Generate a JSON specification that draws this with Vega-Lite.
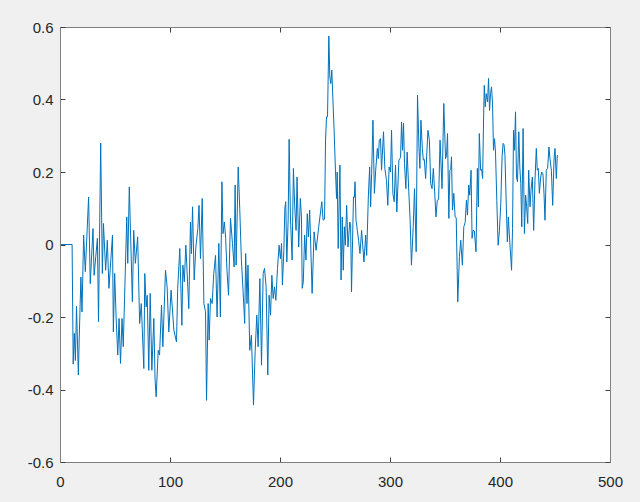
{
  "$schema": "https://vega.github.io/schema/vega-lite/v6.json",
  "width": 550,
  "height": 435,
  "autosize": {"type": "none"},
  "padding": {"left": 60, "top": 27, "right": 30, "bottom": 40},
  "background": "#f0f0f0",
  "config": {
    "view": {"fill": "white", "stroke": null},
    "axis": {
      "grid": false,
      "domainColor": "#808080",
      "domainWidth": 1,
      "tickColor": "#404040",
      "tickSize": -5,
      "tickWidth": 1,
      "labelFont": "Liberation Sans",
      "labelFontSize": 15,
      "labelColor": "#262626",
      "title": null
    }
  },
  "data": {"values": [
    {"x":1,"y":0},{"x":11,"y":0},{"x":12,"y":-0.33},{"x":13,"y":-0.245},{"x":14,"y":-0.32},{"x":15,"y":-0.17},{"x":16.7,"y":-0.36},{"x":17.5,"y":-0.255},{"x":19,"y":-0.09},{"x":20,"y":-0.186},{"x":21.5,"y":0.026},{"x":23,"y":-0.075},{"x":26,"y":0.131},{"x":27.5,"y":-0.108},{"x":30,"y":0.044},{"x":31,"y":-0.085},{"x":32.5,"y":-0.034},{"x":34,"y":0.017},{"x":35,"y":-0.213},{"x":37,"y":0.28},{"x":38.5,"y":-0.08},{"x":39.5,"y":0.058},{"x":41.5,"y":-0.071},{"x":43,"y":0.012},{"x":44.5,"y":-0.121},{"x":47.7,"y":0.026},{"x":48.5,"y":-0.241},{"x":49.7,"y":-0.08},{"x":51,"y":-0.2},{"x":52.5,"y":-0.305},{"x":53.7,"y":-0.204},{"x":55,"y":-0.328},{"x":56.4,"y":-0.204},{"x":57.5,"y":-0.282},{"x":60.7,"y":0.076},{"x":61.6,"y":-0.052},{"x":63,"y":0.159},{"x":65.8,"y":-0.158},{"x":67,"y":0.039},{"x":68.5,"y":-0.052},{"x":70.6,"y":0.021},{"x":72.4,"y":-0.218},{"x":73.9,"y":-0.163},{"x":76.2,"y":-0.342},{"x":77.1,"y":-0.08},
    {"x":78.3,"y":-0.172},{"x":79.3,"y":-0.14},{"x":80.7,"y":-0.347},{"x":82,"y":-0.135},{"x":83.5,"y":-0.347},{"x":85.3,"y":-0.204},{"x":86.4,"y":-0.37},{"x":87.4,"y":-0.42},{"x":89.3,"y":-0.292},{"x":90.5,"y":-0.305},{"x":92.3,"y":-0.167},{"x":93.5,"y":-0.282},{"x":95.9,"y":-0.071},{"x":97.4,"y":-0.117},{"x":98.9,"y":-0.241},{"x":101,"y":-0.126},{"x":103.5,"y":-0.236},{"x":105.9,"y":-0.269},{"x":107,"y":-0.121},{"x":108.9,"y":-0.011},{"x":110.8,"y":-0.223},{"x":111.7,"y":-0.057},{"x":113,"y":-0.103},{"x":114.4,"y":-0.002},{"x":117.1,"y":-0.177},{"x":118.6,"y":0.062},{"x":119.5,"y":-0.025},{"x":120.5,"y":0.104},{"x":122,"y":-0.098},{"x":123.5,"y":-0.007},{"x":125.3,"y":0.044},{"x":126.4,"y":0.108},{"x":127.7,"y":-0.039},{"x":129.3,"y":0.127},{"x":130.8,"y":-0.163},{"x":132.3,"y":-0.185},{"x":133.2,"y":-0.43},{"x":134.7,"y":-0.163},{"x":135.6,"y":-0.264},{"x":136.8,"y":-0.149},{"x":138.3,"y":-0.163},{"x":139.8,"y":-0.08},{"x":141.4,"y":-0.03},{"x":142.8,"y":-0.2},{"x":144.4,"y":0.003},{"x":145.8,"y":-0.2},{"x":147.2,"y":0.173},
    {"x":148.2,"y":0.03},{"x":149.4,"y":0.062},{"x":150.6,"y":0.017},{"x":151.8,"y":-0.071},{"x":153.2,"y":-0.14},{"x":155,"y":0.072},{"x":156.8,"y":0.003},{"x":158.3,"y":-0.062},{"x":159.2,"y":0.164},{"x":160.1,"y":-0.057},{"x":162,"y":0.214},{"x":163.4,"y":0.099},{"x":164.9,"y":-0.043},{"x":166.4,"y":-0.126},{"x":167.9,"y":-0.218},{"x":168.8,"y":-0.025},{"x":170,"y":-0.163},{"x":170.9,"y":-0.057},{"x":172.5,"y":-0.292},{"x":174,"y":-0.25},{"x":175.9,"y":-0.443},{"x":177.4,"y":-0.296},{"x":178.9,"y":-0.195},{"x":180.1,"y":-0.282},{"x":181.7,"y":-0.094},{"x":183.2,"y":-0.333},{"x":184.7,"y":-0.08},{"x":185.9,"y":-0.066},{"x":187.4,"y":-0.117},{"x":188.9,"y":-0.36},{"x":190.1,"y":-0.14},{"x":191.4,"y":-0.195},{"x":192.6,"y":-0.085},{"x":193.8,"y":-0.149},{"x":195,"y":-0.117},{"x":196.2,"y":-0.154},{"x":197.7,"y":-0.066},{"x":199.2,"y":-0.002},{"x":200.4,"y":-0.039},{"x":201.4,"y":0.003},{"x":202.2,"y":-0.112},{"x":203.5,"y":-0.016},{"x":204.4,"y":0.099},{"x":205.2,"y":0.118},{"x":206.2,"y":-0.048},{"x":207.4,"y":0.067},{"x":208.3,"y":0.29},{"x":209.5,"y":0.076},{"x":211,"y":-0.043},{"x":212.2,"y":0.21},{"x":213.4,"y":0.104},{"x":214.6,"y":0.039},{"x":215.5,"y":0.186},{"x":217,"y":-0.007},{"x":218.5,"y":0.127},
    {"x":219.5,"y":0.076},{"x":220.2,"y":-0.121},{"x":221.2,"y":-0.103},{"x":222.4,"y":0.026},{"x":223.6,"y":-0.043},{"x":224.8,"y":0.085},{"x":225.8,"y":0.021},{"x":227,"y":0.095},{"x":229.2,"y":-0.135},{"x":231,"y":0.035},{"x":232.8,"y":-0.016},{"x":235.2,"y":0.049},{"x":238,"y":0.118},{"x":239.2,"y":0.067},{"x":240.5,"y":0.07},{"x":241.4,"y":0.288},{"x":242.3,"y":0.352},{"x":243.2,"y":0.352},{"x":244.4,"y":0.575},{"x":245.3,"y":0.462},{"x":246.2,"y":0.444},{"x":247.1,"y":0.481},{"x":248,"y":0.407},{"x":249.2,"y":0.315},{"x":250.4,"y":0.205},{"x":251.4,"y":0.127},{"x":252,"y":0.2},{"x":252.9,"y":-0.011},{"x":254.5,"y":0.219},{"x":255.5,"y":-0.098},{"x":256.6,"y":0.076},{"x":257.5,"y":-0.071},{"x":258.5,"y":0.049},{"x":259.4,"y":-0.002},{"x":260.6,"y":0.108},{"x":261.8,"y":-0.007},{"x":263.4,"y":0.062},{"x":264.2,"y":0.055},{"x":265,"y":-0.131},{"x":266.8,"y":0.131},{"x":267.6,"y":0.13},{"x":268.2,"y":0.173},{"x":269.1,"y":0.067},{"x":270.3,"y":0.039},{"x":271.5,"y":0.01},{"x":272.7,"y":-0.025},{"x":274.2,"y":0.039},{"x":276.3,"y":-0.048},{"x":277.9,"y":0.026},{"x":278.8,"y":-0.03},{"x":280.3,"y":0.131},{"x":281.5,"y":0.214},{"x":282.4,"y":0.104},{"x":283.3,"y":0.196},{"x":284.5,"y":0.343},{"x":285.8,"y":0.141},{"x":287,"y":0.205},{"x":288.5,"y":0.265},{"x":289.4,"y":0.237},{"x":290.3,"y":0.288},
    {"x":291.4,"y":0.292},{"x":292.3,"y":0.205},{"x":294.1,"y":0.311},{"x":295.3,"y":0.21},{"x":296.8,"y":0.177},{"x":298,"y":0.108},{"x":299.2,"y":0.214},{"x":300.5,"y":0.2},{"x":301.4,"y":0.315},{"x":302.6,"y":0.141},{"x":303.8,"y":0.118},{"x":305,"y":0.219},{"x":306.2,"y":0.09},{"x":308.1,"y":0.233},{"x":309.6,"y":0.24},{"x":310.5,"y":0.338},{"x":311.4,"y":0.26},{"x":312.3,"y":0.334},{"x":313.2,"y":0.223},{"x":314.4,"y":0.154},{"x":315.6,"y":0.255},{"x":317.1,"y":0.145},{"x":318.3,"y":0.067},{"x":319.5,"y":-0.057},{"x":321.1,"y":0.049},{"x":322.3,"y":0.154},{"x":323.8,"y":-0.02},{"x":325,"y":0.412},{"x":326.3,"y":0.269},{"x":327.2,"y":0.21},{"x":328.1,"y":0.343},{"x":329.4,"y":0.265},{"x":330.3,"y":0.233},{"x":331.2,"y":0.235},{"x":332.4,"y":0.182},{"x":333.6,"y":0.26},{"x":334.5,"y":0.315},{"x":335.8,"y":0.288},{"x":337,"y":0.168},{"x":338.2,"y":0.154},{"x":339.4,"y":0.21},{"x":340.6,"y":0.145},{"x":341.8,"y":0.076},{"x":343,"y":0.122},{"x":344.2,"y":0.124},{"x":345.5,"y":0.288},{"x":347.3,"y":0.154},{"x":348.9,"y":0.389},{"x":350.5,"y":0.237},{"x":351.4,"y":0.245},{"x":352.3,"y":0.306},{"x":353.5,"y":0.072},{"x":354.4,"y":0.205},{"x":355.2,"y":0.207},{"x":355.9,"y":0.242},{"x":356.8,"y":0.095},{"x":358,"y":0.141},{"x":359.2,"y":0.076},{"x":360.2,"y":0.074},{"x":361.6,"y":-0.158},{"x":363.1,"y":-0.034},{"x":364.3,"y":0.012},{"x":365.8,"y":-0.057},{"x":367.1,"y":0.049},{"x":368.3,"y":0.06},{"x":369.5,"y":0.122},{"x":370.4,"y":0.081},{"x":371.6,"y":0.164},{"x":372.5,"y":0.136},{"x":373.7,"y":0.205},{"x":374.6,"y":0.017},{"x":375.5,"y":0.039},{"x":376.7,"y":0.037},{"x":378.2,"y":-0.02},{"x":379.4,"y":0.21},{"x":380.3,"y":0.104},{"x":381.2,"y":0.306},{"x":382.4,"y":0.205},{"x":383.3,"y":0.207},{"x":384.2,"y":0.182},{"x":385.1,"y":0.352},{"x":385.7,"y":0.439},{"x":386.6,"y":0.38},{"x":387.5,"y":0.416},{"x":388.7,"y":0.393},{"x":389.6,"y":0.458},{"x":390.5,"y":0.37},{"x":391.4,"y":0.416},{"x":392.3,"y":0.435},{"x":393.2,"y":0.39},{"x":394.1,"y":0.26},{"x":395,"y":0.292},{"x":395.9,"y":0.255},{"x":397.1,"y":0.122},{"x":398.3,"y":-0.002},{"x":399.5,"y":0.039},{"x":400.7,"y":0.113},{"x":401.9,"y":0.242},{"x":402.8,"y":0.279},{"x":403.7,"y":0.275},{"x":404.5,"y":0.246},{"x":405.5,"y":0.131},{"x":406.7,"y":0.007},{"x":407.6,"y":0.076},{"x":408.5,"y":0.026},{"x":410.5,"y":-0.071},{"x":411.4,"y":0.044},{"x":412.3,"y":0.315},{"x":413.2,"y":0.26},{"x":414.1,"y":0.366},{"x":415,"y":0.186},{"x":415.9,"y":0.173},{"x":417.1,"y":0.311},{"x":418,"y":0.214},{"x":418.9,"y":0.168},{"x":419.8,"y":0.049},{"x":421,"y":0.32},{"x":422.2,"y":0.03},{"x":423.3,"y":0.136},{"x":424.2,"y":0.104},{"x":425.2,"y":0.058},{"x":426.1,"y":0.205},{"x":427.3,"y":0.104},{"x":428.2,"y":0.15},{"x":429.4,"y":0.186},{"x":430.6,"y":0.039},{"x":431.8,"y":0.177},{"x":433,"y":0.265},{"x":433.9,"y":0.205},{"x":434.8,"y":0.21},{"x":435.8,"y":0.141},{"x":437,"y":0.186},{"x":437.9,"y":0.2},{"x":439,"y":0.195},{"x":440,"y":0.141},{"x":440.9,"y":0.067},{"x":442.1,"y":0.205},{"x":443.3,"y":0.21},{"x":444.5,"y":0.269},{"x":445.4,"y":0.237},{"x":446.7,"y":0.205},{"x":447.9,"y":0.108},{"x":449.1,"y":0.233},{"x":450,"y":0.265},{"x":451.2,"y":0.182},{"x":452.1,"y":0.246},{"x":452.8,"y":0.244}
  ]},
  "layer": [
    {
      "mark": {"type": "line", "color": "#0072BD", "strokeWidth": 1, "clip": true},
      "encoding": {
        "x": {"field": "x", "type": "quantitative", "scale": {"domain": [0, 500], "nice": false, "zero": false},
              "axis": {"orient": "bottom", "values": [0,100,200,300,400,500], "labelPadding": 17, "labelFlush": false}},
        "y": {"field": "y", "type": "quantitative", "scale": {"domain": [-0.6, 0.6], "nice": false, "zero": false},
              "axis": {"orient": "left", "values": [-0.6,-0.4,-0.2,0,0.2,0.4,0.6], "labelPadding": 12, "labelFlush": false,
                       "labelExpr": "datum.value == 0 ? '0' : toString(round(datum.value*10)/10)"}}
      }
    },
    {
      "mark": {"type": "line", "opacity": 0},
      "encoding": {
        "x": {"field": "x", "type": "quantitative", "scale": {"domain": [0, 500], "nice": false, "zero": false},
              "axis": {"orient": "top", "values": [0,100,200,300,400,500], "labels": false}},
        "y": {"field": "y", "type": "quantitative", "scale": {"domain": [-0.6, 0.6], "nice": false, "zero": false},
              "axis": {"orient": "right", "values": [-0.6,-0.4,-0.2,0,0.2,0.4,0.6], "labels": false}}
      }
    }
  ],
  "resolve": {"scale": {"x": "independent", "y": "independent"}}
}
